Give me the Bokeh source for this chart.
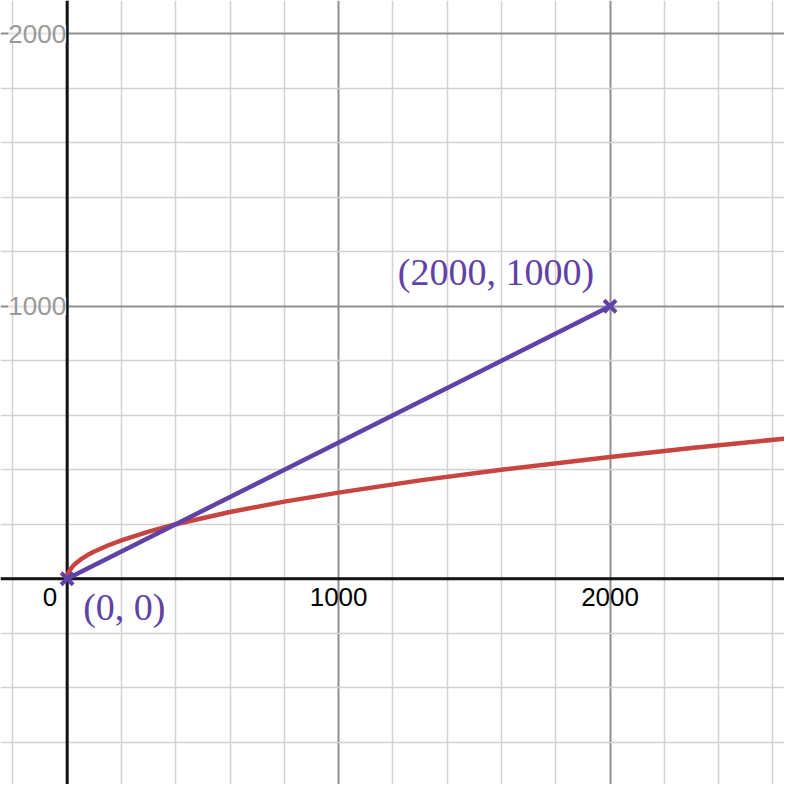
from bokeh.plotting import figure
from bokeh.models import Range1d, FixedTicker, Span, Label
from bokeh.embed import file_html
from bokeh.resources import INLINE

# ---- data ----
curve_x = [0, 0.5, 2, 5, 10, 20, 30, 50, 75, 100, 150, 200, 300, 400, 600, 800, 1000, 1300, 1600, 2000, 2300, 2650]
curve_y = [0, 7, 14, 22, 32, 45, 55, 71, 87, 100, 122, 141, 173, 200, 245, 283, 316, 361, 400, 447, 480, 515]
pts_x = [0, 2000]
pts_y = [0, 1000]
pt_labels = ["(0, 0)", "(2000, 1000)"]
x_tick_vals = [1000, 2000]
x_tick_labels = ["1000", "2000"]
y_tick_vals = [1000, 2000]
y_tick_labels = ["1000", "2000"]
origin_label = "0"
major_ticks = [-1000, 0, 1000, 2000, 3000]
minor_ticks = [-800, -600, -400, -200, 200, 400, 600, 800, 1200, 1400, 1600, 1800, 2200, 2400, 2600, 2800]

RED = "#c74440"
PURPLE = "#6042a6"

p = figure(width=784, height=784, output_backend="svg", toolbar_location=None,
           x_range=Range1d(-245.5, 2642.6), y_range=Range1d(-755, 2122),
           min_border=0, background_fill_color="white", border_fill_color="white")
p.outline_line_color = None
p.xaxis.visible = False
p.yaxis.visible = False

for g in (p.xgrid, p.ygrid):
    g.ticker = FixedTicker(ticks=major_ticks, minor_ticks=minor_ticks)
    g.grid_line_color = "#8f8f8f"
    g.grid_line_width = 2
    g.minor_grid_line_color = "#d2d2d2"
    g.minor_grid_line_width = 1.5

p.add_layout(Span(location=0, dimension="height", line_color="#151515", line_width=3, level="underlay"))
p.add_layout(Span(location=0, dimension="width", line_color="#151515", line_width=3, level="underlay"))

p.line(curve_x, curve_y, line_color=RED, line_width=4.5, line_cap="round", line_join="round")
p.line(pts_x, pts_y, line_color=PURPLE, line_width=4.5, line_cap="round")
p.scatter(pts_x, pts_y, marker="x", size=17, line_width=4, line_color=PURPLE)

for v, t in zip(x_tick_vals, x_tick_labels):
    p.add_layout(Label(x=v, y=0, text=t, text_align="center", text_baseline="top",
                       y_offset=-9, text_font="Liberation Sans", text_font_size="26px",
                       text_color="#000000"))
p.add_layout(Label(x=0, y=0, text=origin_label, text_align="right", text_baseline="top",
                   x_offset=-10, y_offset=-9, text_font="Liberation Sans", text_font_size="26px",
                   text_color="#000000"))
for v, t in zip(y_tick_vals, y_tick_labels):
    p.add_layout(Label(x=0, y=v, text=t, text_align="right", text_baseline="middle",
                       x_offset=-1, text_font="Liberation Sans", text_font_size="26px",
                       text_color="#999999", background_fill_color="white",
                       background_fill_alpha=0.75))

p.add_layout(Label(x=pts_x[0], y=pts_y[0], text=pt_labels[0], text_align="left", text_baseline="top",
                   x_offset=16, y_offset=-7, text_font="Liberation Serif", text_font_size="38px",
                   text_color=PURPLE))
p.add_layout(Label(x=pts_x[1], y=pts_y[1], text=pt_labels[1], text_align="right", text_baseline="bottom",
                   x_offset=-16, y_offset=13, text_font="Liberation Serif", text_font_size="38px",
                   text_color=PURPLE))

open("out.html", "w").write(file_html(p, INLINE))
